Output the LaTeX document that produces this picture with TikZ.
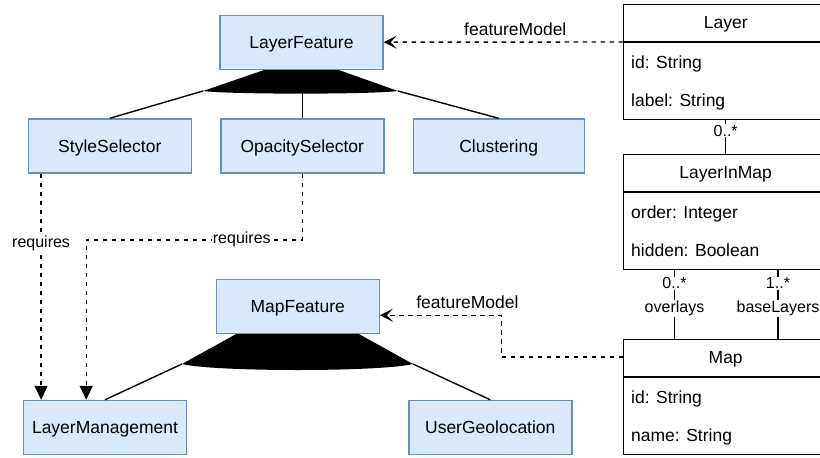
\documentclass[tikz,border=0pt]{standalone}
\usepackage{fontspec}
\setmainfont{Liberation Sans}
\usetikzlibrary{arrows.meta,calc}
\definecolor{featfill}{HTML}{DAE8FC}
\definecolor{featline}{HTML}{6C8EBF}
\newcommand*{\bigtxt}{\fontsize{17.5}{21}\selectfont}
\newcommand*{\smtxt}{\fontsize{16}{19}\selectfont}
\tikzset{
  feat/.style={draw=featline,fill=featfill,line width=1.4pt,minimum width=163pt,
    minimum height=54pt,inner sep=0pt,text height=12.5pt,text depth=0pt,font=\bigtxt},
  umlbox/.style={draw,fill=white,line width=1.4pt,minimum width=204pt,
    minimum height=115pt,anchor=north west,inner sep=0pt},
  attr/.style={anchor=base west,inner sep=0pt,font=\bigtxt},
  lbl/.style={inner sep=1pt,font=\smtxt},
  tie/.style={line width=1.4pt},
  dep/.style={line width=1.4pt,dash pattern=on 4.5pt off 4.5pt},
  req/.style={dep,-{Triangle[length=14pt,width=13pt]}},
  fmod/.style={dep,-{Stealth[length=13pt,width=13pt,inset=6pt]}}
}

\begin{document}
\begin{tikzpicture}[x=1pt,y=-1pt]
\useasboundingbox (0,0) rectangle (820,458);
\clip (0,0) rectangle (820,458);

\coordinate (lfTL) at (267,69);
\coordinate (lfTR) at (336,69);
\coordinate (lfBL) at (203,91);
\coordinate (lfBR) at (398,91);
\coordinate (mfTL) at (238,333);
\coordinate (mfTR) at (357,333);
\coordinate (mfBL) at (182,364);
\coordinate (mfBR) at (413,364);

\fill (lfTL) -- (lfTR) -- (lfBR) .. controls (370,94.5) and (231,94.5) .. (lfBL) -- cycle;
\fill (mfTL) -- (mfTR) -- (mfBR) .. controls (380,372) and (215,372) .. (mfBL) -- cycle;

\node[feat] (lf) at (301.5,42.2) {LayerFeature};
\node[feat] (ss) at (109.8,146) {StyleSelector};
\node[feat] (os) at (302.3,146) {OpacitySelector};
\node[feat,minimum width=171pt] (cl) at (498.7,146) {Clustering};
\node[feat] (mf) at (297.7,306.2) {MapFeature};
\node[feat] (lm) at (105,427.5) {LayerManagement};
\node[feat] (ug) at (490.3,427.5) {UserGeolocation};

\draw[tie] (lfBL) -- (ss.north);
\draw[tie] (os.north) -- (os.north |- lfBL);
\draw[tie] (lfBR) -- (cl.north);
\draw[tie] (mfBL) -- (lm.north);
\draw[tie] (mfBR) -- (ug.north);

\foreach \cname/\ctitle/\cy/\fa/\fb in {layer/Layer/4/id: String/label: String,
    lim/LayerInMap/154/order: Integer/hidden: Boolean,
    map/Map/339/id: String/name: String} {
  \node[umlbox] (\cname) at (623,\cy) {};
  \draw[tie] ($(\cname.north west)+(0,38)$) -- ($(\cname.north east)+(0,38)$);
  \node[anchor=base,inner sep=0pt,font=\bigtxt] at ($(\cname.north)+(0,24)$) {\ctitle};
  \node[attr] at ($(\cname.north west)+(8,64)$) {\fa};
  \node[attr] at ($(\cname.north west)+(8,102.3)$) {\fb};
}

\draw[tie] (layer.south) -- node[lbl,fill=white,pos=.31] {0..*} (lim.north);
\coordinate (ovT) at ($(lim.south west)+(51.5,0)$);
\coordinate (ovB) at ($(map.north west)+(51.5,0)$);
\coordinate (blT) at ($(lim.south west)+(155,0)$);
\coordinate (blB) at ($(map.north west)+(155,0)$);
\draw[tie] (ovT) -- node[lbl,fill=white,pos=.19] {0..*}
  node[lbl,fill=white,pos=.56] {overlays} (ovB);
\draw[tie] (blT) -- node[lbl,fill=white,pos=.19] {1..*}
  node[lbl,fill=white,pos=.56] {baseLayers} (blB);

\coordinate (fmA) at ($(layer.north west)+(0,38)$);
\draw[fmod] (fmA) -- node[lbl,font=\bigtxt,pos=.45,above=5pt] {featureModel} (lf.east);
\coordinate (fmB) at ($(map.north west)+(0,18)$);
\coordinate (fmE) at ($(mf.east)+(0,9)$);
\draw[fmod] (fmB) -| ($(fmB)!.5!(fmE)$) |-
  node[lbl,font=\bigtxt,pos=.64,above=4.5pt] {featureModel} (fmE);

\coordinate (rqA) at ($(ss.south west)+(13.5,0)$);
\coordinate (rqB) at ($(lm.north west)+(63.4,0)$);
\draw[req] (rqA) -- node[lbl,fill=white,pos=.31] {requires} (rqA |- lm.north);
\draw[req] (os.south) |- node[lbl,fill=white,pos=.64] {requires}
  ($(rqB)+(0,-160)$) -- (rqB);
\end{tikzpicture}
\end{document}
